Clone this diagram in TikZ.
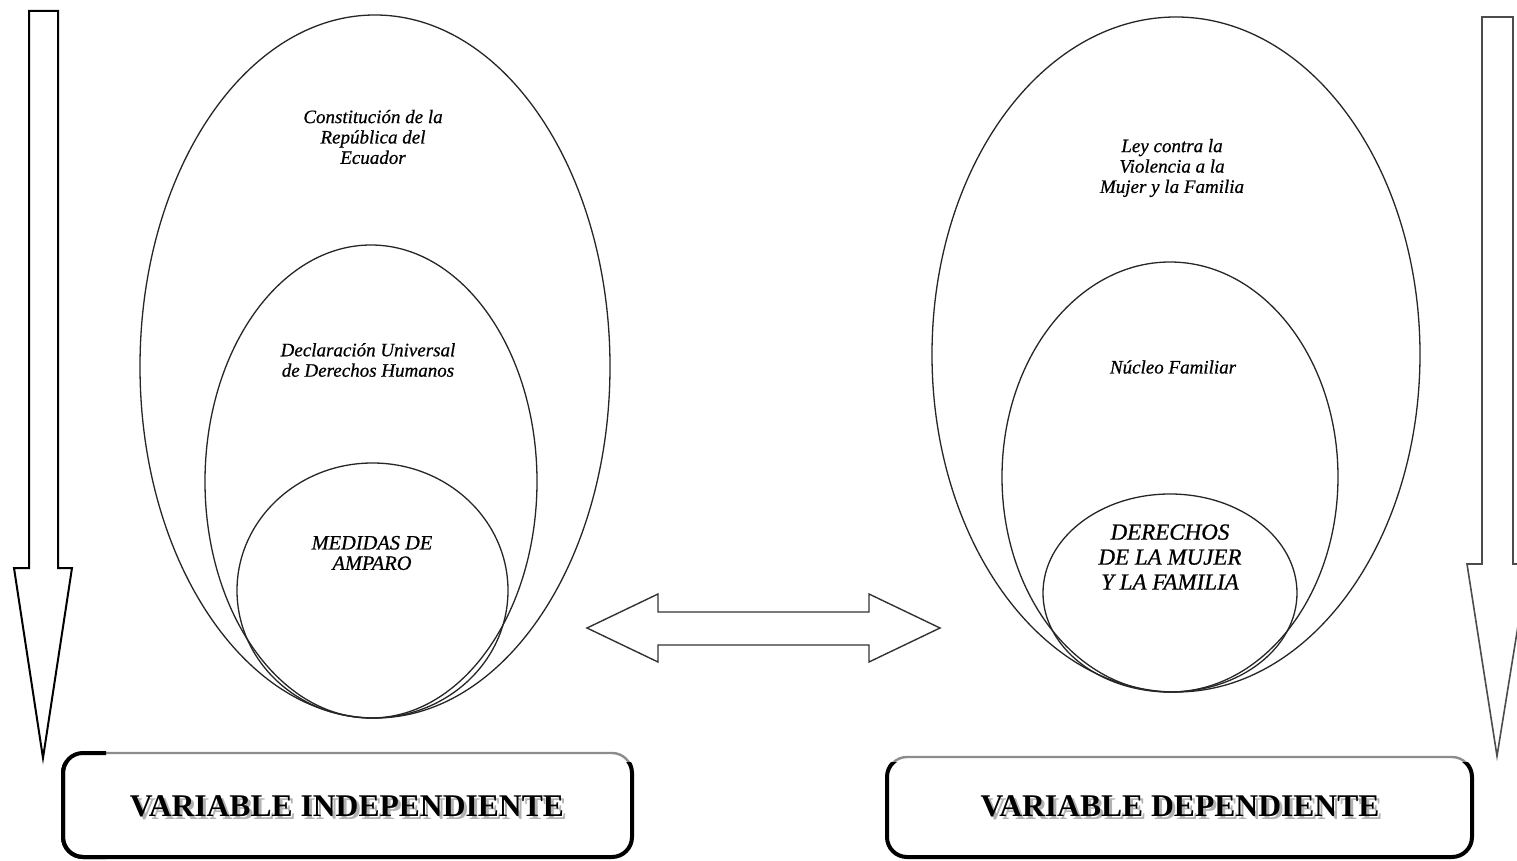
\documentclass[tikz,border=0pt]{standalone}
\usepackage{fontspec}
\setmainfont{Liberation Serif}
\newfontfamily\heavyit{Liberation Serif}[UprightFont=*-Italic, FakeBold=0.6]
\begin{document}
\begin{tikzpicture}[x=0.5pt,y=-0.5pt,
  ell/.style={draw=black!85, line width=0.65pt},
  itl/.style={align=center, inner sep=0pt, font=\fontsize{9.5pt}{10.2pt}\heavyit},
  itlmid/.style={align=center, inner sep=0pt, font=\fontsize{10.2pt}{10.2pt}\heavyit},
  itlbig/.style={align=center, inner sep=0pt, font=\fontsize{11.5pt}{12.5pt}\heavyit},
  vlab/.style={inner sep=0pt, font=\fontsize{15.8pt}{18pt}\selectfont\bfseries},
  vshadow/.style={vlab, text=black!30},
  arrowshape/.style={draw=black, line width=1pt, line join=miter},
  arrowshapeR/.style={draw=black!70, line width=0.8pt, line join=miter},
  dblarrow/.style={draw=black!80, line width=0.7pt, line join=miter},
  boxtop/.style={draw=black!45, line width=1.2pt, rounded corners=10pt},
  boxedge/.style={draw=black, line width=2pt, rounded corners=10pt}
]
\useasboundingbox (0,0) rectangle (1517,861);
\clip (0,0) rectangle (1517,861);
\fill[white] (0,0) rectangle (1517,861);

% vertical arrows
\draw[arrowshape] (29,11) -- (58,11) -- (58,568) -- (72,568) -- (43,758) -- (14,568) -- (29,568) -- cycle;
\draw[arrowshapeR] (1482,17) -- (1513,17) -- (1513,564) -- (1528,564) -- (1497,756) -- (1467,564) -- (1482,564) -- cycle;

% left ellipses
\draw[ell] (375,366.5) ellipse [x radius=235, y radius=351.5];
\draw[ell] (371,481.5) ellipse [x radius=166, y radius=236.5];
\draw[ell] (372.5,590.5) ellipse [x radius=135.5, y radius=127.5];

% right ellipses
\draw[ell] (1176,354.5) ellipse [x radius=244, y radius=337.5];
\draw[ell] (1170,477) ellipse [x radius=168, y radius=215];
\draw[ell] (1170,593) ellipse [x radius=127, y radius=99];

% texts in ellipses
\node[itl] (t1) at (373,137) {Constitución de la\\República del\\Ecuador};
\node[itl] (t2) at (368,360) {Declaración Universal\\de Derechos Humanos};
\node[itlmid] (t3) at (372,553) {MEDIDAS DE\\AMPARO};
\node[itl] (t4) at (1172,168) {Ley contra la\\Violencia a la\\Mujer y la Familia};
\node[itl] (t5) at (1173,367) {Núcleo Familiar};
\node[itlbig] (t6) at (1170,557) {DERECHOS\\DE LA MUJER\\Y LA FAMILIA};

% double arrow
\draw[dblarrow] (587,628) -- (658,594) -- (658,612) -- (869,612) -- (869,594) -- (940,628) -- (869,662) -- (869,645) -- (658,645) -- (658,662) -- cycle;

% boxes
\coordinate (b1nw) at (63,753);
\coordinate (b1se) at (632,857);
\coordinate (b2nw) at (887,757);
\coordinate (b2se) at (1472,857);
\draw[boxtop] (b1nw) rectangle (b1se);
\draw[boxtop] (b2nw) rectangle (b2se);
\begin{scope}
  \clip (0,762) rectangle (1517,861);
  \draw[boxedge] (b1nw) rectangle (b1se);
  \draw[boxedge] (b2nw) rectangle (b2se);
\end{scope}
\begin{scope}
  \clip (0,0) rectangle (106,861);
  \draw[boxedge] (b1nw) rectangle (b1se);
\end{scope}

\node[vshadow] (s1) at (350,809) {VARIABLE INDEPENDIENTE};
\node[vlab] (l1) at (347,806) {VARIABLE INDEPENDIENTE};
\node[vshadow] (s2) at (1183,809) {VARIABLE DEPENDIENTE};
\node[vlab] (l2) at (1180,806) {VARIABLE DEPENDIENTE};
\end{tikzpicture}
\end{document}
